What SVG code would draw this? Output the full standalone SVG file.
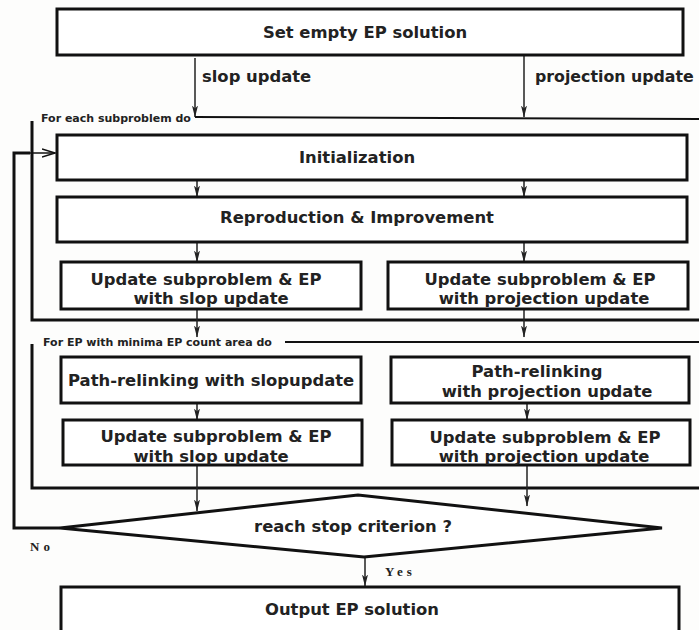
<svg xmlns="http://www.w3.org/2000/svg" width="699" height="630" viewBox="0 0 699 630">
<defs>
<marker id="ah" markerWidth="12" markerHeight="6" refX="11.5" refY="3" orient="auto" markerUnits="userSpaceOnUse" viewBox="0 0 12 6">
<path d="M0,0 L12,3 L0,6 L3,3 Z" fill="#222"/>
</marker>
<marker id="open" markerWidth="14" markerHeight="10" refX="13" refY="5" orient="auto" markerUnits="userSpaceOnUse" viewBox="0 0 14 10">
<path d="M0,1 L13,5 L0,9" fill="none" stroke="#111" stroke-width="1.6"/>
</marker>
<style>
.box{fill:#fff;stroke:#111;stroke-width:3}
.t{font-family:"DejaVu Sans",sans-serif;font-weight:bold;font-size:16.4px;fill:#222;text-anchor:middle}
.s{font-family:"DejaVu Sans",sans-serif;font-weight:bold;font-size:11px;fill:#222}
.yn{font-family:"Liberation Serif",serif;font-weight:bold;font-size:13px;fill:#222;letter-spacing:4px}
.arr{stroke:#222;stroke-width:1.5;fill:none;marker-end:url(#ah)}
.loop{stroke:#111;stroke-width:3;fill:none}
.thin{stroke:#111;stroke-width:2;fill:none}
</style>
</defs>
<rect width="699" height="630" fill="#fdfdfc"/>

<g id="connectors">
<line class="arr" x1="195" y1="58" x2="195" y2="117"/>
<line class="arr" x1="524" y1="56" x2="524" y2="117"/>
<line class="thin" x1="195" y1="117" x2="699" y2="119"/>
<polyline class="loop" points="32,121 32,320 699,320"/>
<line class="thin" x1="285" y1="342" x2="699" y2="342"/>
<polyline class="loop" points="32,344 32,488 699,488"/>
<polyline class="loop" points="60,528 14,528 14,153 30,153"/>
<line x1="14" y1="153" x2="55" y2="153" stroke="#111" stroke-width="1.6" marker-end="url(#open)"/>
<line class="arr" x1="197" y1="181" x2="197" y2="197"/>
<line class="arr" x1="524" y1="181" x2="524" y2="197"/>
<line class="arr" x1="197" y1="243" x2="197" y2="262"/>
<line class="arr" x1="524" y1="243" x2="524" y2="262"/>
<line class="arr" x1="197" y1="310" x2="197" y2="337"/>
<line class="arr" x1="524" y1="310" x2="524" y2="337"/>
<line class="arr" x1="197" y1="404" x2="197" y2="420"/>
<line class="arr" x1="527" y1="404" x2="527" y2="420"/>
<line class="arr" x1="197" y1="466" x2="197" y2="511"/>
<line class="arr" x1="527" y1="466" x2="527" y2="506"/>
<line class="arr" x1="365" y1="557" x2="365" y2="586"/>
<text class="t" x="202" y="82" style="text-anchor:start">slop update</text>
<text class="t" x="535" y="82" style="text-anchor:start;font-size:15.8px">projection update</text>
<text class="s" x="41" y="122">For each subproblem do</text>
<text class="s" x="43" y="346">For EP with minima EP count area do</text>
<text class="yn" x="30" y="551">No</text>
<text class="yn" x="385" y="576">Yes</text>
</g>

<g id="start">
<rect class="box" x="57" y="9" width="626" height="46"/>
<text class="t" x="365" y="38">Set empty EP solution</text>
</g>

<g id="init">
<rect class="box" x="57" y="135" width="630" height="45"/>
<text class="t" x="357" y="163">Initialization</text>
</g>

<g id="repro">
<rect class="box" x="57" y="197" width="630" height="45"/>
<text class="t" x="357" y="223">Reproduction &amp; Improvement</text>
</g>

<g id="upd1-slop">
<rect class="box" x="61" y="262" width="300" height="47"/>
<text class="t" x="206" y="285">Update subproblem &amp; EP</text>
<text class="t" x="211" y="304">with slop update</text>
</g>

<g id="upd1-proj">
<rect class="box" x="388" y="262" width="300" height="47"/>
<text class="t" x="540" y="285">Update subproblem &amp; EP</text>
<text class="t" x="544" y="304">with projection update</text>
</g>

<g id="pr-slop">
<rect class="box" x="61" y="357" width="300" height="46"/>
<text class="t" x="68" y="386" style="text-anchor:start">Path-relinking with slopupdate</text>
</g>

<g id="pr-proj">
<rect class="box" x="391" y="357" width="298" height="46"/>
<text class="t" x="537" y="377">Path-relinking</text>
<text class="t" x="547" y="397">with projection update</text>
</g>

<g id="upd2-slop">
<rect class="box" x="63" y="420" width="299" height="45"/>
<text class="t" x="216" y="442">Update subproblem &amp; EP</text>
<text class="t" x="211" y="462">with slop update</text>
</g>

<g id="upd2-proj">
<rect class="box" x="392" y="420" width="298" height="45"/>
<text class="t" x="545" y="443">Update subproblem &amp; EP</text>
<text class="t" x="544" y="462">with projection update</text>
</g>

<g id="decision">
<polygon points="60,528 358,495 662,528 364,557" fill="#fff" stroke="#111" stroke-width="3"/>
<text class="t" x="353" y="532">reach stop criterion ?</text>
</g>

<g id="output">
<rect class="box" x="61" y="587" width="618" height="60"/>
<text class="t" x="352" y="615">Output EP solution</text>
</g>
</svg>
